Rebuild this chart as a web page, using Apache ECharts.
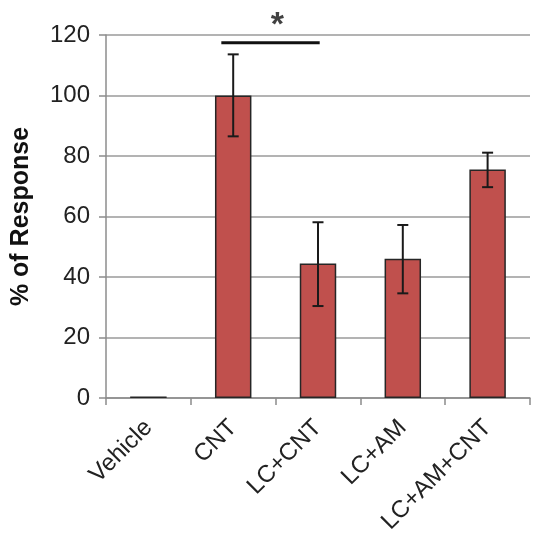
<!DOCTYPE html>
<html>
<head>
<meta charset="utf-8">
<script src="https://cdn.jsdelivr.net/npm/echarts@6/dist/echarts.min.js"></script>
<style>html,body{margin:0;padding:0;background:#fff}#c{width:537px;height:540px}</style>
</head>
<body>
<div id="c"></div>
<script>
const categories = ['Vehicle', 'CNT', 'LC+CNT', 'LC+AM', 'LC+AM+CNT'];
const responseValues = [0.5, 100, 44.5, 46, 75.5];
const errorLow = [null, 86.5, 30.4, 34.6, 69.7];
const errorHigh = [null, 113.6, 58.1, 57.2, 81.1];
const yTicks = [0, 20, 40, 60, 80, 100, 120];
const sigBarX = [0.86, 2.02];
const sigBarY = 117.4;
const sigStarX = 1.52;

const errData = [];
categories.forEach((c, i) => {
  if (errorLow[i] != null) errData.push([i, errorLow[i], errorHigh[i]]);
});

const chart = echarts.init(document.getElementById('c'), null, {renderer: 'canvas'});
const font = "'Liberation Sans', Arial, sans-serif";
chart.setOption({
  animation: false,
  grid: {left: 106, right: 7, top: 35, bottom: 142},
  xAxis: [{
    type: 'category',
    data: categories,
    axisLine: {lineStyle: {color: '#8c8c8c', width: 1.5}},
    axisTick: {show: true, length: 7, lineStyle: {color: '#8c8c8c', width: 1.5}},
    axisLabel: {rotate: 45, fontSize: 24, color: '#222', fontFamily: font, margin: 26}
  }, {
    type: 'value', min: -0.5, max: 4.5, show: false
  }],
  yAxis: {
    type: 'value', min: yTicks[0], max: yTicks[yTicks.length - 1], interval: 20,
    name: '% of Response', nameLocation: 'middle', nameGap: 72,
    nameTextStyle: {fontSize: 25, fontWeight: 'bold', color: '#111', fontFamily: font},
    axisLine: {show: true, onZero: false, lineStyle: {color: '#8c8c8c', width: 1.5}},
    axisTick: {show: true, length: 7, lineStyle: {color: '#8c8c8c', width: 1.5}},
    axisLabel: {fontSize: 24, color: '#222', fontFamily: font, margin: 16},
    splitLine: {lineStyle: {color: '#9a9a9a', width: 1.5}}
  },
  series: [{
    type: 'bar',
    data: responseValues,
    barWidth: '43%',
    itemStyle: {color: '#c0504d', borderColor: '#262626', borderWidth: 1.5}
  }, {
    type: 'custom',
    data: errData,
    z: 10,
    renderItem: function (params, api) {
      const x = api.value(0);
      const lo = api.coord([x, api.value(1)]);
      const hi = api.coord([x, api.value(2)]);
      const w = 5.5;
      const st = {stroke: '#1a1a1a', lineWidth: 2};
      return {type: 'group', children: [
        {type: 'line', shape: {x1: lo[0], y1: lo[1], x2: hi[0], y2: hi[1]}, style: st},
        {type: 'line', shape: {x1: lo[0] - w, y1: lo[1], x2: lo[0] + w, y2: lo[1]}, style: st},
        {type: 'line', shape: {x1: hi[0] - w, y1: hi[1], x2: hi[0] + w, y2: hi[1]}, style: st}
      ]};
    }
  }, {
    type: 'line',
    xAxisIndex: 1,
    data: [[sigBarX[0], sigBarY], [sigBarX[1], sigBarY]],
    symbol: 'none',
    lineStyle: {color: '#111', width: 3},
    z: 10
  }, {
    type: 'scatter',
    xAxisIndex: 1,
    data: [[sigStarX, sigBarY]],
    symbolSize: 0,
    clip: false,
    label: {show: true, position: 'top', distance: 0, formatter: '*', fontSize: 34, fontWeight: 'bold', color: '#111', fontFamily: font}
  }]
});
</script>
</body>
</html>
